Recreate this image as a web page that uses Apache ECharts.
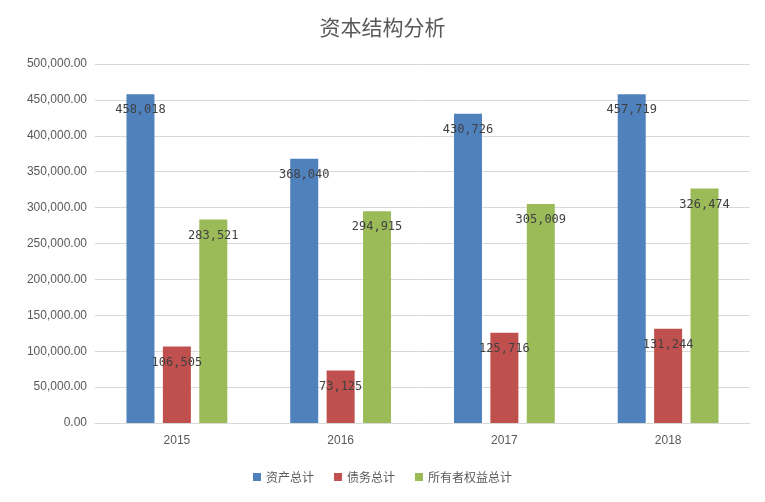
<!DOCTYPE html>
<html><head><meta charset="utf-8">
<script src="https://cdn.jsdelivr.net/npm/echarts@6/dist/echarts.min.js"></script>
<style>html,body{margin:0;padding:0;background:#fff}#c{width:765px;height:502px}</style>
</head><body><div id="c"></div>
<script>
const categories = ['2015','2016','2017','2018'];
const assets = [458018, 368040, 430726, 457719];
const debts = [106505, 73125, 125716, 131244];
const equity = [283521, 294915, 305009, 326474];
const seriesNames = ['资产总计','债务总计','所有者权益总计'];
const fmt = v => v.toLocaleString('en-US');
const fmt2 = v => v.toLocaleString('en-US',{minimumFractionDigits:2,maximumFractionDigits:2});
const chart = echarts.init(document.getElementById('c'));
const lbl = {show:true, position:'insideTop', distance:10, color:'#404040', fontSize:12, fontFamily:'DejaVu Sans Mono', formatter:p=>fmt(p.value)};
chart.setOption({
  animation:false,
  title:{text:'资本结构分析', left:'center', top:12, textStyle:{color:'#595959', fontSize:21, fontWeight:'normal', fontFamily:'Noto Sans CJK SC'}},
  legend:{bottom:14, itemWidth:8, itemHeight:8, itemGap:20, icon:'rect', textStyle:{color:'#595959', fontSize:12, fontFamily:'Noto Sans CJK SC'}},
  grid:{left:95, right:15, top:64, bottom:79},
  xAxis:{type:'category', data:categories, axisTick:{show:false}, axisLine:{lineStyle:{color:'#d9d9d9'}}, axisLabel:{color:'#595959', fontSize:12, margin:12}},
  yAxis:{type:'value', min:0, max:500000, interval:50000, axisLabel:{color:'#595959', fontSize:12, formatter:fmt2}, splitLine:{lineStyle:{color:'#d9d9d9'}}, axisLine:{show:false}},
  series:[
    {name:seriesNames[0], type:'bar', data:assets, barWidth:28, barGap:'30%', itemStyle:{color:'#4F81BD'}, label:lbl},
    {name:seriesNames[1], type:'bar', data:debts, barWidth:28, barGap:'30%', itemStyle:{color:'#C0504D'}, label:lbl},
    {name:seriesNames[2], type:'bar', data:equity, barWidth:28, barGap:'30%', itemStyle:{color:'#9BBB59'}, label:lbl}
  ]
});
</script></body></html>
